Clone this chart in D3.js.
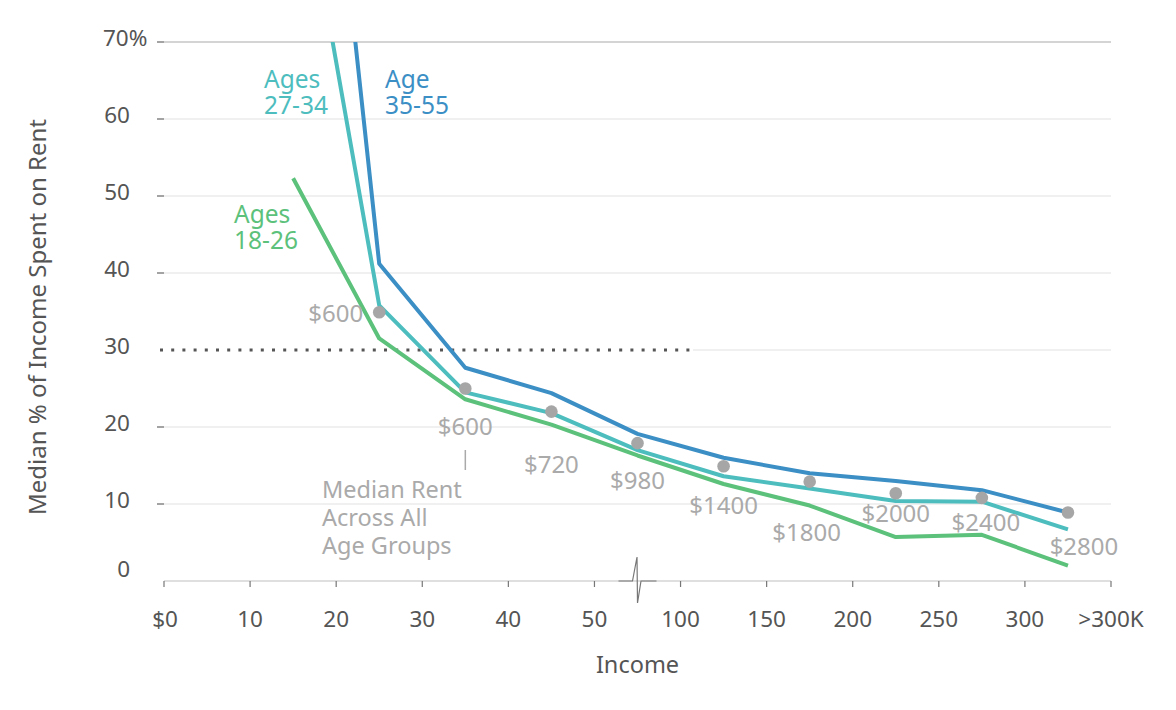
<!DOCTYPE html>
<html>
<head>
<meta charset="utf-8">
<script src="https://cdn.jsdelivr.net/npm/d3@7"></script>
<style>
  html, body { margin: 0; padding: 0; background: #fff; }
  svg { display: block; }
  text { font-family: "Noto Sans", "Open Sans", sans-serif; }
</style>
</head>
<body>
<svg id="chart" width="1176" height="710"></svg>
<script>
// ---------- data ----------
const tickLabels = ["$0", "10", "20", "30", "40", "50", "100", "150", "200", "250", "300", ">300K"];
const incomeBrackets = ["10–20K", "20–30K", "30–40K", "40–50K", "50–100K", "100–150K", "150–200K", "200–250K", "250–300K", ">300K"];
const yTicks = [0, 10, 20, 30, 40, 50, 60, 70];

const ages18to26 = [52.3, 31.5, 23.6, 20.3, 16.3, 12.6, 9.8, 5.7, 6.0, 2.0];
const ages27to34 = [99, 35.8, 24.5, 21.8, 17.0, 13.6, 12.0, 10.4, 10.3, 6.7];
const ages35to55 = [145, 41.2, 27.7, 24.4, 19.1, 16.0, 14.0, 13.0, 11.8, 8.9];

const rentBrackets = ["20–30K", "30–40K", "40–50K", "50–100K", "100–150K", "150–200K", "200–250K", "250–300K", ">300K"];
const rentPct = [34.9, 25.0, 22.0, 17.9, 14.9, 12.9, 11.4, 10.8, 8.9];
const rentLabels = ["$600", "$600", "$720", "$980", "$1400", "$1800", "$2000", "$2400", "$2800"];

// label layout (offsets from the dot, in px)
const rentLabelLayout = [
  {dx: -16, dy: 10, anchor: "end"},
  {dx: 0, dy: 46, anchor: "middle"},
  {dx: 0, dy: 61, anchor: "middle"},
  {dx: 0, dy: 46, anchor: "middle"},
  {dx: 0, dy: 48, anchor: "middle"},
  {dx: -3, dy: 59, anchor: "middle"},
  {dx: 0, dy: 29, anchor: "middle"},
  {dx: 4, dy: 33, anchor: "middle"},
  {dx: 16, dy: 43, anchor: "middle"}
];

// ---------- scales ----------
const svg = d3.select("#chart");
const pLeft = 164, pRight = 1111, pTop = 42, pBottom = 581;
const xIdx = d3.scaleLinear().domain([0, tickLabels.length - 1]).range([pLeft, pRight]);
const xBracket = d => xIdx(incomeBrackets.indexOf(d) + 1.5);
const y = d3.scaleLinear().domain([0, 70]).range([pBottom, pTop]);

const colors = { green: "#5cc17b", teal: "#4dbdbe", blue: "#3b8fc5" };
const gray = "#a6a6a6";

// ---------- grid ----------
const grid = svg.append("g");
yTicks.filter(t => t > 0).forEach(t => {
  if (t === 30) {
    grid.append("line").attr("x1", 693).attr("x2", pRight).attr("y1", y(t)).attr("y2", y(t))
      .attr("stroke", "#e2e2e2").attr("stroke-width", 1.2);
    grid.append("line").attr("x1", 160).attr("x2", 693).attr("y1", y(t)).attr("y2", y(t))
      .attr("stroke", "#555").attr("stroke-width", 3).attr("stroke-dasharray", "3,8.2");
  } else {
    grid.append("line").attr("x1", pLeft).attr("x2", pRight).attr("y1", y(t)).attr("y2", y(t))
      .attr("stroke", t === 70 ? "#a9a9a9" : "#e2e2e2").attr("stroke-width", 1.2);
    grid.append("line").attr("x1", 157).attr("x2", 164).attr("y1", y(t)).attr("y2", y(t))
      .attr("stroke", "#666").attr("stroke-width", 1.2);
  }
});

// y tick labels
const yl = svg.append("g").attr("fill", "#555").style("font-size", "22.5px");
yTicks.forEach(t => {
  const ty = t === 0 ? y(0) - 4 : y(t) + 3.5;
  const tx = yl.append("text").attr("x", 130).attr("y", ty).attr("text-anchor", "end").text(t);
  if (t === 70) {
    tx.text(null).attr("text-anchor", "start").attr("x", 103).text(t + "%");
  }
});

// y title
svg.append("text")
  .attr("transform", "translate(46,317) rotate(-90)")
  .attr("text-anchor", "middle").attr("fill", "#555").style("font-size", "24px")
  .text("Median % of Income Spent on Rent");

// x axis
const xa = svg.append("g");
xa.append("line").attr("x1", pLeft).attr("x2", pRight).attr("y1", pBottom).attr("y2", pBottom)
  .attr("stroke", "#d4d4d4").attr("stroke-width", 1.5);
tickLabels.forEach((lab, i) => {
  xa.append("line").attr("x1", xIdx(i)).attr("x2", xIdx(i)).attr("y1", pBottom).attr("y2", pBottom + 6)
    .attr("stroke", "#777").attr("stroke-width", 1.2);
  xa.append("text").attr("x", xIdx(i) + (i === 0 ? 1 : 0)).attr("y", 627).attr("text-anchor", "middle")
    .attr("fill", "#555").style("font-size", "22.5px").text(lab);
});
// axis break symbol between 50 and 100
const bx = (xIdx(5) + xIdx(6)) / 2;
xa.append("path")
  .attr("d", `M${bx - 19},${pBottom} L${bx - 5},${pBottom} L${bx - 0.5},${pBottom - 24} L${bx},${pBottom + 22} L${bx + 3.5},${pBottom} L${bx + 19},${pBottom}`)
  .attr("fill", "none").attr("stroke", "#777").attr("stroke-width", 1.2);

svg.append("text").attr("x", bx).attr("y", 673).attr("text-anchor", "middle")
  .attr("fill", "#555").style("font-size", "23.5px").text("Income");

// ---------- lines ----------
svg.append("clipPath").attr("id", "plotclip").append("rect")
  .attr("x", pLeft).attr("y", pTop).attr("width", pRight - pLeft + 20).attr("height", pBottom - pTop);

const line = d3.line().x((d, i) => xIdx(i + 1.5)).y(d => y(d));
const series = [
  {vals: ages18to26, color: colors.green},
  {vals: ages27to34, color: colors.teal},
  {vals: ages35to55, color: colors.blue}
];
const lg = svg.append("g").attr("clip-path", "url(#plotclip)");
series.slice().reverse().forEach(s => {
  lg.append("path").datum(s.vals).attr("d", line)
    .attr("fill", "none").attr("stroke", s.color).attr("stroke-width", 4)
    .attr("stroke-linejoin", "round");
});

// ---------- median rent dots & labels ----------
const dg = svg.append("g");
rentPct.forEach((v, i) => {
  const cx = xBracket(rentBrackets[i]), cy = y(v);
  dg.append("circle").attr("cx", cx).attr("cy", cy).attr("r", 6.3).attr("fill", gray);
  const L = rentLabelLayout[i];
  dg.append("text").attr("x", cx + L.dx).attr("y", cy + L.dy).attr("text-anchor", L.anchor)
    .attr("fill", "#aaa").style("font-size", "24px").text(rentLabels[i]);
});
// pointer line + note under the second $600
const nx = xBracket(rentBrackets[1]);
dg.append("line").attr("x1", nx).attr("x2", nx).attr("y1", 450).attr("y2", 470)
  .attr("stroke", "#aaa").attr("stroke-width", 1.5);
const note = dg.append("text").attr("x", 322).attr("y", 498).attr("fill", "#aaa").style("font-size", "23.5px");
["Median Rent", "Across All", "Age Groups"].forEach((t, i) => {
  note.append("tspan").attr("x", 322).attr("dy", i === 0 ? 0 : 28).text(t);
});

// ---------- series labels ----------
const labs = [
  {lines: ["Ages", "27-34"], x: 264, y: 88, color: colors.teal},
  {lines: ["Age", "35-55"], x: 385, y: 88, color: colors.blue},
  {lines: ["Ages", "18-26"], x: 234, y: 223, color: colors.green}
];
labs.forEach(l => {
  const t = svg.append("text").attr("x", l.x).attr("y", l.y).attr("fill", l.color).style("font-size", "24.5px");
  l.lines.forEach((s, i) => {
    t.append("tspan").attr("x", l.x).attr("dy", i === 0 ? 0 : 26).text(s);
  });
});
</script>
</body>
</html>
